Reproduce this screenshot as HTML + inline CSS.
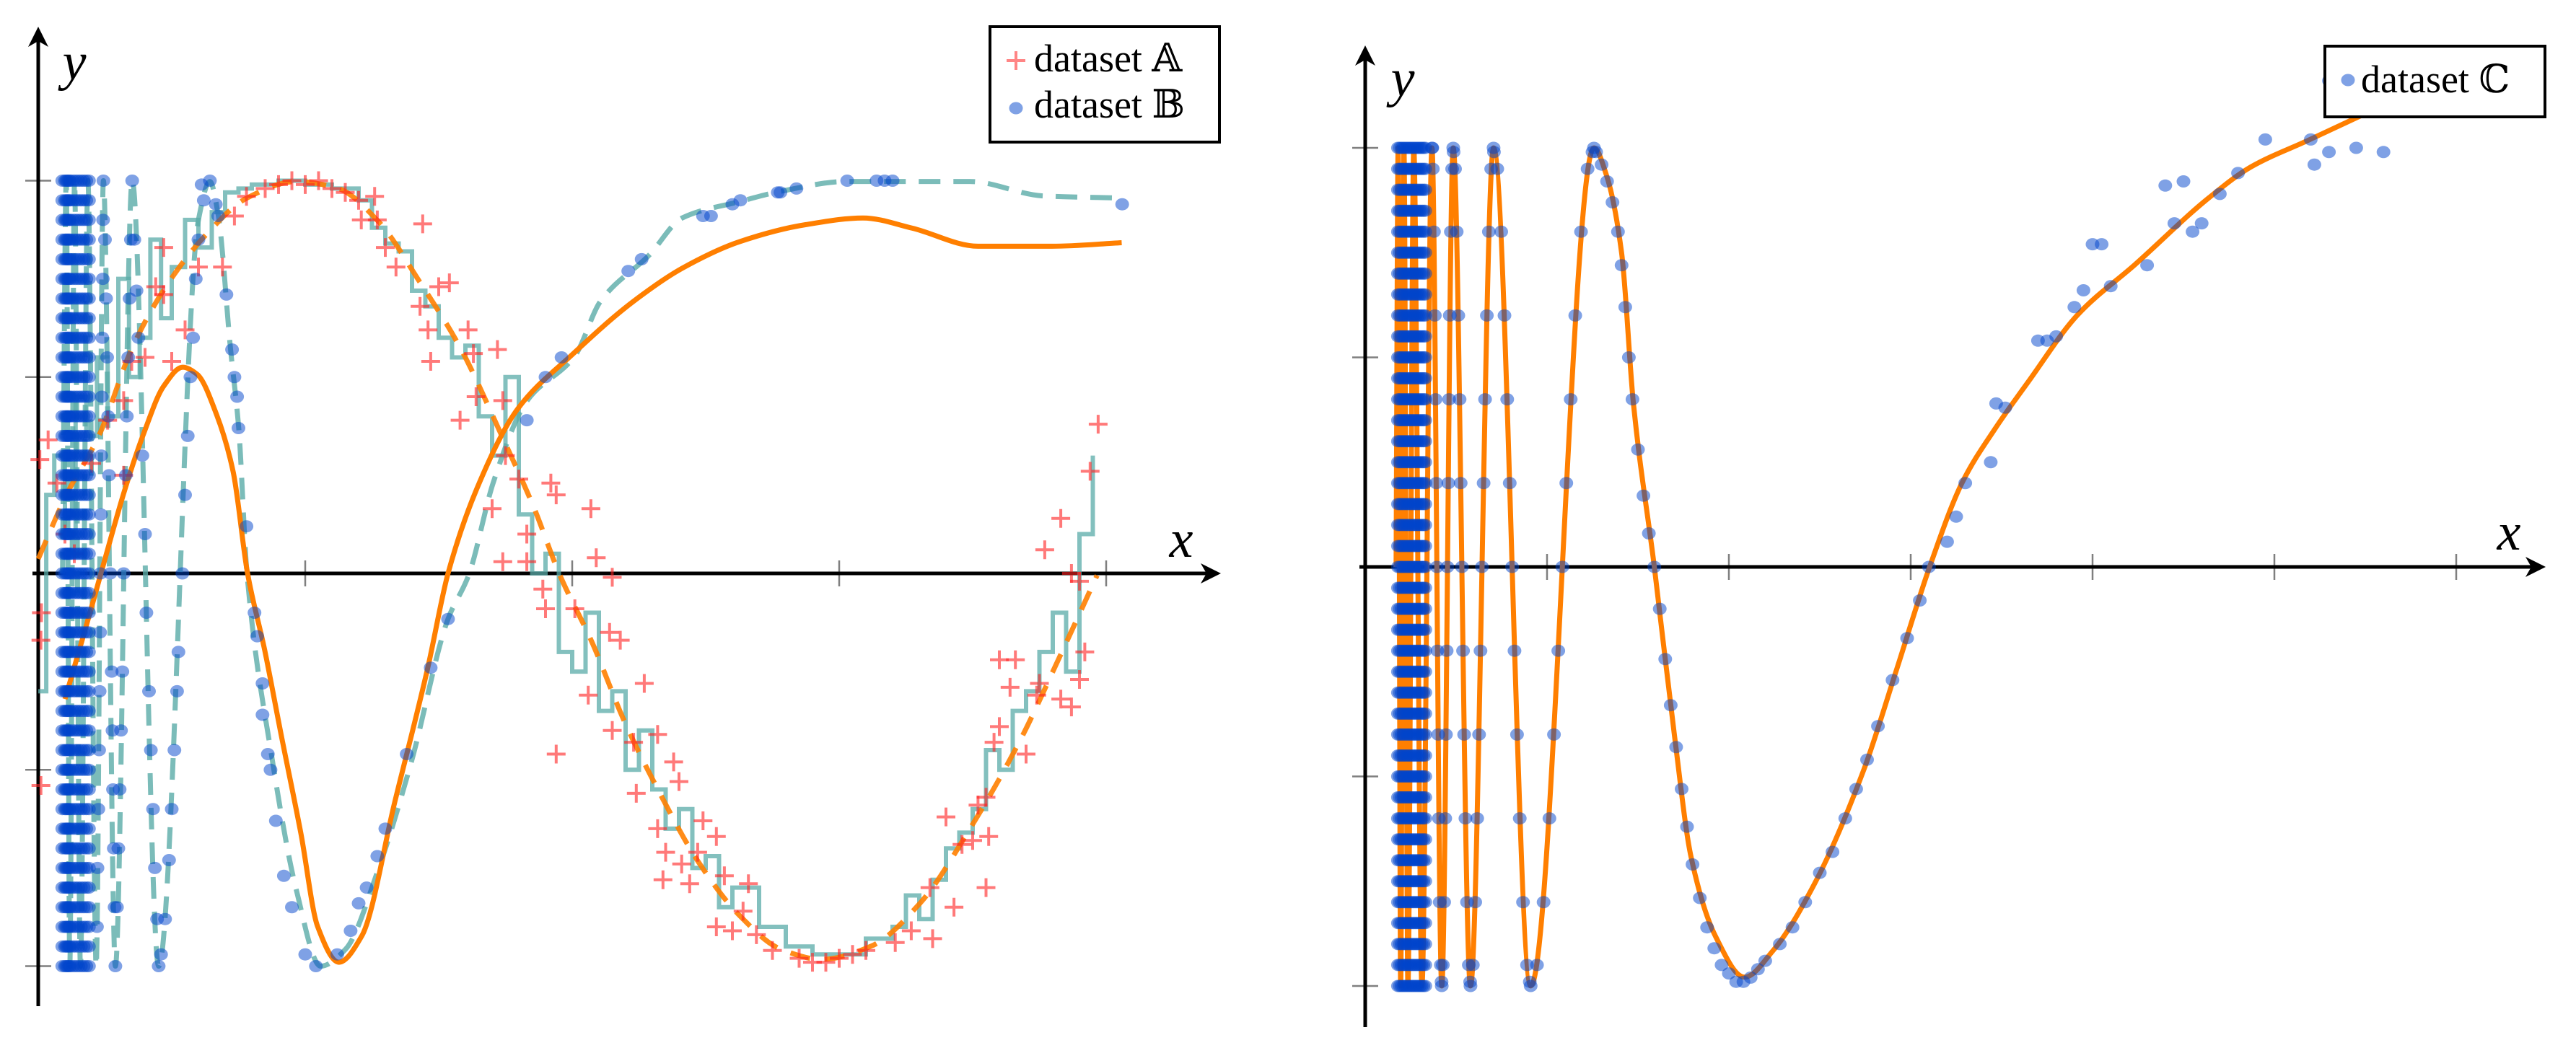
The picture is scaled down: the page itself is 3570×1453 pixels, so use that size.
<!DOCTYPE html>
<html><head><meta charset="utf-8"><style>
html,body{margin:0;padding:0;background:#fff;}
svg{display:block;}
</style></head><body>
<svg id="chart" width="3570" height="1453" viewBox="0 0 3570 1453" xmlns="http://www.w3.org/2000/svg">
<g id="left"></g>
<g id="right"></g>
</svg>
<script>
// ---------------- LEFT PLOT DATA ----------------
const orangeSolidX = [0.1,0.173,0.235,0.325,0.397,0.47,0.541,0.595,0.668,0.73,0.784,0.848,0.911,0.984,1.046,1.126,1.212,1.335,1.458,1.535,1.643,1.797,1.998,2.228,2.412,2.628,2.874,3.089,3.274,3.52,3.797,4.058];
const orangeSolidY = [-0.32,-0.15,0.0,0.215,0.36,0.477,0.525,0.507,0.404,0.259,0.0,-0.195,-0.415,-0.663,-0.898,-0.99,-0.923,-0.583,-0.243,0.0,0.216,0.42,0.556,0.692,0.777,0.845,0.888,0.905,0.879,0.833,0.833,0.842];
const orangeDashX = [0,0.105,0.228,0.351,0.474,0.628,0.782,0.966,1.12,1.274,1.428,1.582,1.735,1.858,1.951,2.074,2.197,2.32,2.474,2.628,2.782,2.935,3.12,3.305,3.489,3.674,3.828,3.966];
const orangeDashY = [0.037,0.199,0.352,0.573,0.726,0.862,0.956,0.998,0.981,0.896,0.743,0.573,0.352,0.165,0,-0.175,-0.379,-0.549,-0.736,-0.872,-0.957,-0.983,-0.949,-0.838,-0.651,-0.43,-0.209,-0.005];
const tealDashX = [0.091,0.105,0.118,0.136,0.158,0.186,0.217,0.244,0.289,0.352,0.451,0.6,0.643,0.674,0.72,0.751,0.782,0.874,0.966,1.058,1.151,1.274,1.397,1.535,1.612,1.705,1.828,2.012,2.105,2.289,2.412,2.628,2.782,3.028,3.489,3.766,4.058];
const tealDashY = [0,1,-1,1,-1,1,-1,1,-1,1,-1,0.9,0.998,0.913,0.573,0.369,0,-0.464,-0.804,-1,-0.957,-0.753,-0.481,-0.116,-0.005,0.233,0.437,0.556,0.692,0.811,0.905,0.947,0.973,0.998,0.998,0.961,0.956];
const stepX = [0,0.03,0.06,0.1,0.14,0.18,0.22,0.26,0.3,0.34,0.38,0.42,0.46,0.5,0.55,0.6,0.65,0.7,0.75,0.8,0.9,1.0,1.1,1.2,1.25,1.3,1.35,1.4,1.45,1.5,1.55,1.6,1.65,1.7,1.75,1.8,1.85,1.9,1.95,2.0,2.05,2.1,2.15,2.2,2.25,2.3,2.35,2.4,2.45,2.5,2.55,2.6,2.7,2.8,2.9,3.0,3.1,3.2,3.25,3.3,3.35,3.4,3.45,3.5,3.55,3.6,3.65,3.7,3.75,3.8,3.85,3.9,3.95];
const stepY = [-0.3,0.2,0.3,0.1,0.45,0.35,0.55,0.4,0.75,0.5,0.6,0.85,0.65,0.78,0.9,0.83,0.92,0.97,0.98,0.99,1.0,0.99,0.98,0.95,0.88,0.84,0.82,0.72,0.68,0.6,0.55,0.58,0.4,0.3,0.5,0.15,0.0,0.05,-0.2,-0.25,-0.1,-0.35,-0.3,-0.5,-0.4,-0.55,-0.65,-0.6,-0.75,-0.72,-0.85,-0.8,-0.9,-0.95,-0.97,-0.97,-0.93,-0.9,-0.82,-0.88,-0.78,-0.7,-0.66,-0.6,-0.45,-0.5,-0.35,-0.3,-0.2,-0.1,-0.25,0.1,0.3];
const datasetA = [0.006,0.29,0.037,0.34,0.012,-0.1,0.01,-0.17,0.01,-0.54,0.07,0.23,0.1,0.1,0.135,0.05,0.2,0.28,0.26,0.39,0.32,0.44,0.32,0.25,0.35,0.54,0.4,0.55,0.44,0.73,0.47,0.71,0.47,0.83,0.5,0.54,0.55,0.62,0.6,0.78,0.69,0.78,0.735,0.91,0.78,0.96,0.85,0.98,0.9,0.99,0.95,1.0,1.0,0.99,1.05,1.0,1.1,0.98,1.15,0.97,1.2,0.95,1.26,0.96,1.21,0.9,1.27,0.9,1.3,0.83,1.34,0.78,1.44,0.89,1.43,0.68,1.46,0.62,1.47,0.54,1.5,0.73,1.54,0.74,1.61,0.62,1.63,0.56,1.72,0.57,1.58,0.39,1.64,0.45,1.7,0.165,1.74,0.44,1.75,0.3,1.8,0.24,1.83,0.1,1.74,0.03,1.83,0.03,1.92,0.23,1.94,0.2,1.94,-0.46,1.89,-0.04,1.9,-0.09,2.01,-0.09,2.07,0.165,2.09,0.04,2.15,-0.01,2.14,-0.15,2.18,-0.17,2.06,-0.31,2.27,-0.28,2.15,-0.4,2.23,-0.43,2.32,-0.41,2.24,-0.56,2.32,-0.65,2.38,-0.48,2.4,-0.53,2.35,-0.71,2.41,-0.74,2.47,-0.71,2.49,-0.63,2.54,-0.67,2.34,-0.78,2.44,-0.79,2.57,-0.77,2.54,-0.9,2.6,-0.91,2.66,-0.79,2.64,-0.86,2.69,-0.92,2.75,-0.96,2.85,-0.98,2.9,-0.99,2.95,-0.99,3.0,-0.98,3.05,-0.97,3.1,-0.96,3.21,-0.94,3.27,-0.91,3.35,-0.93,3.34,-0.8,3.4,-0.62,3.43,-0.85,3.46,-0.69,3.5,-0.68,3.52,-0.59,3.55,-0.8,3.56,-0.67,3.55,-0.57,3.58,-0.43,3.6,-0.39,3.6,-0.22,3.66,-0.22,3.64,-0.29,3.7,-0.46,3.74,-0.31,3.75,-0.28,3.83,-0.32,3.87,-0.34,3.9,-0.27,3.92,-0.2,3.77,0.06,3.83,0.14,3.87,0,3.9,-0.02,3.94,0.26,3.97,0.38];
const denseBX = [0.09,0.1,0.105,0.11,0.115,0.12,0.13,0.14,0.15,0.16,0.17,0.18,0.19];
const denseBY = [-1,-0.95,-0.9,-0.85,-0.8,-0.75,-0.7,-0.65,-0.6,-0.55,-0.5,-0.45,-0.4,-0.35,-0.3,-0.25,-0.2,-0.15,-0.1,-0.05,0,0.05,0.1,0.15,0.2,0.25,0.3,0.35,0.4,0.45,0.5,0.55,0.6,0.65,0.7,0.75,0.8,0.85,0.9,0.95,1];
const datasetB = [0.22,-0.9,0.222,-0.75,0.225,-0.6,0.228,-0.45,0.23,-0.3,0.232,-0.15,0.233,0,0.235,0.15,0.236,0.3,0.238,0.45,0.24,0.6,0.242,0.75,0.243,0.9,0.244,1,0.25,0.85,0.254,0.7,0.258,0.55,0.262,0.4,0.265,0.25,0.27,0,0.275,-0.25,0.278,-0.4,0.28,-0.55,0.283,-0.7,0.286,-0.85,0.289,-1,0.295,-0.85,0.3,-0.7,0.305,-0.55,0.31,-0.4,0.315,-0.25,0.32,0,0.328,0.25,0.332,0.4,0.337,0.55,0.342,0.7,0.347,0.85,0.352,1,0.36,0.85,0.368,0.72,0.375,0.6,0.39,0.3,0.4,0.1,0.405,-0.1,0.415,-0.3,0.422,-0.45,0.43,-0.6,0.437,-0.75,0.445,-0.88,0.451,-1,0.46,-0.97,0.475,-0.88,0.49,-0.73,0.5,-0.6,0.51,-0.45,0.52,-0.3,0.525,-0.2,0.54,0,0.55,0.2,0.56,0.35,0.57,0.5,0.58,0.6,0.59,0.75,0.6,0.85,0.62,0.95,0.612,0.99,0.643,1,0.665,0.94,0.674,0.91,0.705,0.71,0.726,0.57,0.735,0.5,0.745,0.45,0.75,0.37,0.78,0.12,0.81,-0.1,0.82,-0.16,0.84,-0.28,0.84,-0.36,0.86,-0.46,0.87,-0.5,0.89,-0.63,0.92,-0.77,0.95,-0.85,1.0,-0.97,1.04,-1,1.12,-0.97,1.17,-0.91,1.2,-0.84,1.23,-0.8,1.27,-0.72,1.3,-0.65,1.38,-0.46,1.47,-0.24,1.535,-0.116,1.83,0.39,1.9,0.5,1.96,0.55,2.21,0.77,2.26,0.8,2.49,0.91,2.52,0.91,2.6,0.94,2.63,0.95,2.77,0.97,2.78,0.97,2.84,0.98,3.03,1,3.14,1,3.17,1,3.2,1,4.06,0.94];
const leftXTicks = [1,2,3,4];
const leftYTicks = [-1,-0.5,0.5,1];

// ---------------- RIGHT PLOT DATA ----------------
const curveCX = [0.17,0.181,0.195,0.213,0.235,0.267,0.312,0.367,0.421,0.484,0.579,0.706,0.91,1.258,1.33,1.41,1.475,1.59,1.701,1.792,1.928,2.086,2.244,2.471,2.742,2.923,3.104,3.285,3.466,3.647,3.919,4.235,4.643,4.869,5.186,5.615];
const curveCY = [0,1,-1,1,-1,1,-1,1,-1,1,-1,1,-1,1,0.93,0.75,0.39,0,-0.404,-0.692,-0.883,-0.979,-0.915,-0.756,-0.484,-0.244,0,0.203,0.331,0.442,0.602,0.722,0.882,0.954,1.018,1.105];
const denseCX = [0.18,0.19,0.2,0.21,0.22,0.23,0.24,0.25,0.26,0.27,0.28,0.29,0.3,0.31,0.32,0.33];
const denseCY = [-1,-0.95,-0.9,-0.85,-0.8,-0.75,-0.7,-0.65,-0.6,-0.55,-0.5,-0.45,-0.4,-0.35,-0.3,-0.25,-0.2,-0.15,-0.1,-0.05,0,0.05,0.1,0.15,0.2,0.25,0.3,0.35,0.4,0.45,0.5,0.55,0.6,0.65,0.7,0.75,0.8,0.85,0.9,0.95,1];
const datasetC = [
0.367,1,0.421,-1,0.484,1,0.579,-1,0.706,1,0.91,-1,1.258,1,0.369,1,0.42,-0.99,0.486,0.99,0.577,-0.99,0.708,0.99,0.905,-0.99,1.25,0.99,
0.372,0.95,0.378,0.8,0.383,0.6,0.387,0.4,0.391,0.2,0.394,0,0.397,-0.2,0.401,-0.4,0.405,-0.6,0.41,-0.8,0.416,-0.95,
0.427,-0.95,0.434,-0.8,0.44,-0.6,0.444,-0.4,0.448,-0.2,0.452,0,0.457,0.2,0.461,0.4,0.465,0.6,0.471,0.8,0.478,0.95,
0.494,0.95,0.503,0.8,0.512,0.6,0.519,0.4,0.525,0.2,0.532,0,0.538,-0.2,0.544,-0.4,0.551,-0.6,0.56,-0.8,0.57,-0.95,
0.592,-0.95,0.605,-0.8,0.616,-0.6,0.626,-0.4,0.634,-0.2,0.642,0,0.651,0.2,0.659,0.4,0.669,0.6,0.68,0.8,0.693,0.95,
0.726,0.95,0.748,0.8,0.766,0.6,0.781,0.4,0.795,0.2,0.808,0,0.821,-0.2,0.835,-0.4,0.85,-0.6,0.868,-0.8,0.89,-0.95,
0.945,-0.95,0.981,-0.8,1.013,-0.6,1.038,-0.4,1.062,-0.2,1.084,0,1.106,0.2,1.13,0.4,1.155,0.6,1.187,0.8,1.223,0.95,
1.27,0.99,1.3,0.96,1.33,0.92,1.36,0.87,1.39,0.8,1.41,0.72,1.43,0.62,1.45,0.5,1.47,0.4,1.5,0.28,1.53,0.17,1.56,0.08,1.59,0,1.62,-0.1,1.65,-0.22,1.68,-0.33,1.71,-0.43,1.74,-0.53,1.77,-0.62,1.8,-0.71,1.84,-0.79,1.88,-0.86,1.92,-0.91,1.96,-0.95,2.0,-0.97,2.04,-0.99,2.08,-0.99,2.12,-0.98,2.16,-0.96,
2.2,-0.94,2.28,-0.9,2.35,-0.86,2.42,-0.8,2.5,-0.73,2.57,-0.68,2.64,-0.6,2.7,-0.53,2.76,-0.46,2.82,-0.38,2.9,-0.27,2.98,-0.17,3.05,-0.08,3.1,0,3.2,0.06,3.25,0.12,3.3,0.2,3.44,0.25,3.47,0.39,3.52,0.38,3.7,0.54,3.75,0.54,3.8,0.55,3.9,0.62,3.95,0.66,4.0,0.77,4.05,0.77,4.1,0.67,4.3,0.72,4.4,0.91,4.45,0.82,4.5,0.92,4.55,0.8,4.6,0.82,4.7,0.89,4.8,0.94,4.95,1.02,5.2,1.02,5.22,0.96,5.3,0.99,5.45,1.0,5.6,0.99,5.3,1.16,5.44,1.17];
const rightXTicks = [1,2,3,4,5,6];
const rightYTicks = [-1,-0.5,0.5,1];

// ---------------- HELPERS ----------------
const NS = 'http://www.w3.org/2000/svg';
const SERIF = '"Liberation Serif", "DejaVu Serif", serif';
function mk(tag, attrs, parent) {
  const e = document.createElementNS(NS, tag);
  for (const k in attrs) e.setAttribute(k, attrs[k]);
  parent.appendChild(e);
  return e;
}
function spline(pts) {
  const n = pts.length;
  if (n < 2) return '';
  const dx = [], m = [], t = new Array(n);
  for (let i = 0; i < n - 1; i++) {
    dx.push(pts[i + 1][0] - pts[i][0]);
    m.push((pts[i + 1][1] - pts[i][1]) / dx[i]);
  }
  t[0] = m[0]; t[n - 1] = m[n - 2];
  for (let i = 1; i < n - 1; i++) {
    if (m[i - 1] * m[i] <= 0) t[i] = 0;
    else {
      const w1 = 2 * dx[i] + dx[i - 1], w2 = dx[i] + 2 * dx[i - 1];
      t[i] = (w1 + w2) / (w1 / m[i - 1] + w2 / m[i]);
    }
  }
  let d = 'M' + pts[0][0].toFixed(1) + ',' + pts[0][1].toFixed(1);
  for (let i = 0; i < n - 1; i++) {
    const h = dx[i] / 3;
    d += 'C' + (pts[i][0] + h).toFixed(1) + ',' + (pts[i][1] + t[i] * h).toFixed(1) + ' ' +
      (pts[i + 1][0] - h).toFixed(1) + ',' + (pts[i + 1][1] - t[i + 1] * h).toFixed(1) + ' ' +
      pts[i + 1][0].toFixed(1) + ',' + pts[i + 1][1].toFixed(1);
  }
  return d;
}
function drawAxes(g, ox, oy, xu, yu, xEnd, yTop, yBot, xTicks, yTicks, xl, yl) {
  for (const t of xTicks) {
    const tk = mk('line', {x1: ox + t * xu, x2: ox + t * xu, y1: oy - 18, y2: oy + 18, stroke: '#7f7f7f', 'stroke-width': 2.5}, g);
    
    
  }
  for (const t of yTicks) {
    const tk = mk('line', {x1: ox - 18, x2: ox + 18, y1: oy - t * yu, y2: oy - t * yu, stroke: '#7f7f7f', 'stroke-width': 2.5}, g);
    
    
  }
  const xa = mk('line', {x1: ox - 8, x2: xEnd - 10, y1: oy, y2: oy, stroke: '#000', 'stroke-width': 5}, g);
  
  
  const xh = mk('path', {d: `M${xEnd},${oy} L${xEnd - 28},${oy - 14} L${xEnd - 20},${oy} L${xEnd - 28},${oy + 14} Z`, fill: '#000'}, g);
  
  
  const ya = mk('line', {x1: ox, x2: ox, y1: yBot, y2: yTop + 10, stroke: '#000', 'stroke-width': 5}, g);
  
  
  const yh = mk('path', {d: `M${ox},${yTop} L${ox - 14},${yTop + 28} L${ox},${yTop + 20} L${ox + 14},${yTop + 28} Z`, fill: '#000'}, g);
  
  
  const xt = mk('text', {x: xl[0], y: xl[1], 'font-size': 74, 'font-style': 'italic', 'font-family': SERIF, 'text-anchor': 'middle'}, g);
  xt.textContent = 'x';
  
  
  const yt = mk('text', {x: yl[0], y: yl[1], 'font-size': 74, 'font-style': 'italic', 'font-family': SERIF, 'text-anchor': 'middle'}, g);
  yt.textContent = 'y';
  
  
}
function plus(g, x, y, color, op) {
  return mk('path', {d: `M${(x - 13).toFixed(1)},${y.toFixed(1)}h26M${x.toFixed(1)},${(y - 13).toFixed(1)}v26`, stroke: color, 'stroke-width': 4, 'stroke-opacity': op, fill: 'none'}, g);
}
function dot(g, x, y) {
  return mk('ellipse', {cx: x.toFixed(1), cy: y.toFixed(1), rx: 9.5, ry: 8.5, fill: '#0044cc', 'fill-opacity': 0.5}, g);
}

// ---------------- LEFT PLOT ----------------
(function () {
  const g = document.getElementById('left');
  const ox = 53, oy = 795, xu = 370, yu = 544.5;
  const sx = v => ox + v * xu, sy = v => oy - v * yu;
  drawAxes(g, ox, oy, xu, yu, 1692, 37, 1395, leftXTicks, leftYTicks, [1637, 772], [103, 110]);

  let d = '';
  for (let i = 0; i < stepX.length; i++) {
    const X = sx(stepX[i]), Y = sy(stepY[i]);
    if (i === 0) d += `M${X.toFixed(1)},${Y.toFixed(1)}`;
    else d += `V${Y.toFixed(1)}`;
    const nx = i < stepX.length - 1 ? sx(stepX[i + 1]) : X;
    d += `H${nx.toFixed(1)}`;
  }
  const st = mk('path', {d: d, fill: 'none', stroke: '#5aaba8', 'stroke-opacity': 0.75, 'stroke-width': 6}, g);
  
  

  const td = mk('path', {d: spline(tealDashX.map((x, i) => [sx(x), sy(tealDashY[i])])), fill: 'none', stroke: '#5aaba8', 'stroke-opacity': 0.8, 'stroke-width': 7, 'stroke-dasharray': '30 18'}, g);
  
  

  const os = mk('path', {d: spline(orangeSolidX.map((x, i) => [sx(x), sy(orangeSolidY[i])])), fill: 'none', stroke: '#ff7f00', 'stroke-width': 7}, g);
  
  

  const od = mk('path', {d: spline(orangeDashX.map((x, i) => [sx(x), sy(orangeDashY[i])])), fill: 'none', stroke: '#ff7f00', 'stroke-width': 7, 'stroke-dasharray': '28 20', 'stroke-opacity': 0.9}, g);
  
  

  for (let i = 0; i < datasetA.length; i += 2) {
    const p = plus(g, sx(datasetA[i]), sy(datasetA[i + 1]), '#ff2020', 0.6);
    
    
  }
  for (const x of denseBX) {
    for (const y of denseBY) {
      const c = dot(g, sx(x), sy(y));
      
      
    }
  }
  for (let i = 0; i < datasetB.length; i += 2) {
    const c = dot(g, sx(datasetB[i]), sy(datasetB[i + 1]));
    
    
  }

  const lg = mk('g', {}, g);
  
  
  mk('rect', {x: 1372, y: 37, width: 318, height: 160, fill: '#fff', stroke: '#000', 'stroke-width': 4}, lg);
  const lp = plus(lg, 1408, 84, '#ff2020', 0.55);
  
  
  const t1 = mk('text', {x: 1433, y: 99, 'font-size': 54, 'font-family': SERIF}, lg);
  t1.textContent = 'dataset 𝔸';
  
  
  const lc = dot(lg, 1408, 150);
  
  
  const t2 = mk('text', {x: 1433, y: 163, 'font-size': 54, 'font-family': SERIF}, lg);
  t2.textContent = 'dataset 𝔹';
  
  
})();

// ---------------- RIGHT PLOT ----------------
(function () {
  const g = document.getElementById('right');
  const ox = 1892, oy = 786, xu = 252, yu = 581;
  const sx = v => ox + v * xu, sy = v => oy - v * yu;
  drawAxes(g, ox, oy, xu, yu, 3528, 63, 1424, rightXTicks, rightYTicks, [3477, 762], [1944, 133]);

  const oc = mk('path', {d: spline(curveCX.map((x, i) => [sx(x), sy(curveCY[i])])), fill: 'none', stroke: '#ff7f00', 'stroke-width': 7}, g);
  
  

  for (const x of denseCX) {
    for (const y of denseCY) {
      const c = dot(g, sx(x), sy(y));
      
      
    }
  }
  for (let i = 0; i < datasetC.length; i += 2) {
    const c = dot(g, sx(datasetC[i]), sy(datasetC[i + 1]));
    
    
  }

  const lg = mk('g', {}, g);
  
  
  mk('rect', {x: 3222, y: 64, width: 305, height: 98, fill: '#fff', stroke: '#000', 'stroke-width': 4}, lg);
  const lc = dot(lg, 3254, 111);
  
  
  const t = mk('text', {x: 3272, y: 128, 'font-size': 54, 'font-family': SERIF}, lg);
  t.textContent = 'dataset ℂ';
  
  
})();
</script>
</body></html>
